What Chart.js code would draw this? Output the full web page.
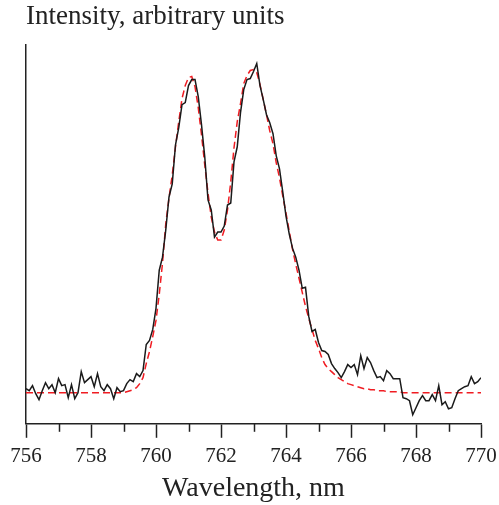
<!DOCTYPE html>
<html>
<head>
<meta charset="utf-8">
<script src="https://cdn.jsdelivr.net/npm/chart.js@4"></script>
<style>
  body { margin: 0; background: #fff; }
  canvas { display: block; }
</style>
</head>
<body>
<canvas id="spectrum" width="499" height="505"></canvas>
<script>
// wavelength grid, nm
const wlStart = 756;
const wlStep = 0.1;

// measured spectrum (black), arbitrary units, one value per 0.1 nm from 756 to 770
const measured = [
  35, 33, 38, 30, 24, 33, 41, 35, 39, 31,
  45, 38, 39, 26, 39, 25, 31, 52, 41, 44,
  47, 37, 50, 37, 33, 39, 35, 25, 36, 32,
  33, 40, 44, 42, 50, 47, 53, 79, 83, 94,
  115, 153, 166, 193, 226, 239, 278, 295, 318, 320,
  337, 343, 343, 326, 298, 266, 223, 213, 186, 191,
  191, 197, 218, 220, 261, 276, 310, 333, 343, 344,
  351, 359, 337, 323, 308, 300, 289, 267, 254, 231,
  207, 189, 175, 166, 153, 135, 136, 107, 92, 94,
  81, 73, 72, 69, 60, 55, 51, 46, 52, 59,
  56, 59, 49, 68, 55, 66, 61, 53, 46, 47,
  43, 53, 50, 45, 45, 45, 26, 25, 23, 9,
  16, 23, 28, 23, 23, 29, 23, 38, 19, 22,
  15, 16, 25, 33, 35, 37, 38, 47, 40, 42,
  46
];

// two-peak fit (red dashed), same grid
const fitted = [
  31, 31, 31, 31, 31, 31, 31, 31, 31, 31,
  31, 31, 31, 31, 31, 31, 31, 31, 31, 31,
  31, 31, 31, 31, 31, 31, 31, 31, 31, 31,
  31, 32, 33, 34, 36, 40, 46, 60, 72, 87,
  103, 129, 160, 199, 225, 248, 276, 301, 324, 337,
  345, 346, 336, 315, 288, 258, 230, 206, 191, 183,
  183, 193, 213, 241, 275, 301, 319, 339, 347, 352,
  353, 350, 338, 323, 308, 292, 279, 260, 245, 227,
  210, 192, 174, 159, 145, 131, 117, 105, 94, 83,
  75, 66, 59, 55, 52, 49, 46, 44, 42, 40,
  39, 38, 37, 36, 35, 35, 34, 34, 33, 33,
  33, 32, 32, 32, 32, 32, 31, 31, 31, 31,
  31, 31, 31, 31, 31, 31, 31, 31, 31, 31,
  31, 31, 31, 31, 31, 31, 31, 31, 31, 31,
  31
];

const xMin = 756, xMax = 770;
const yMax = 378;
const serif = "'Liberation Serif', 'DejaVu Serif', serif";
const ink = '#222';

function toPoints(values) {
  return values.map((v, i) => ({ x: +(wlStart + i * wlStep).toFixed(1), y: v }));
}

// short ticks on the odd wavelengths
const minorTicks = {
  id: 'minorTicks',
  afterDraw(chart) {
    const xs = chart.scales.x;
    const ctx = chart.ctx;
    ctx.save();
    ctx.strokeStyle = ink;
    ctx.lineWidth = 1.5;
    for (let v = xMin + 1; v < xMax; v += 2) {
      const px = Math.round(xs.getPixelForValue(v)) + 0.5;
      ctx.beginPath();
      ctx.moveTo(px, xs.top);
      ctx.lineTo(px, xs.top + 8);
      ctx.stroke();
    }
    ctx.restore();
  }
};

new Chart(document.getElementById('spectrum'), {
  type: 'line',
  data: {
    datasets: [
      {
        label: 'measured',
        data: toPoints(measured),
        borderColor: '#1a1a1a',
        borderWidth: 1.5,
        pointRadius: 0,
        tension: 0
      },
      {
        label: 'fit',
        data: toPoints(fitted),
        borderColor: '#f01c22',
        borderWidth: 1.5,
        borderDash: [7, 4],
        pointRadius: 0,
        tension: 0
      }
    ]
  },
  options: {
    responsive: false,
    animation: false,
    devicePixelRatio: 1,
    layout: { padding: { left: 26, right: 18, top: 0, bottom: 2 } },
    plugins: {
      legend: { display: false },
      tooltip: { enabled: false },
      title: {
        display: true,
        text: 'Intensity, arbitrary units',
        align: 'start',
        color: ink,
        font: { family: serif, size: 27, weight: 'normal', lineHeight: 1.2 },
        padding: { top: 1, bottom: 11 }
      }
    },
    scales: {
      x: {
        type: 'linear',
        min: xMin,
        max: xMax,
        ticks: {
          stepSize: 1,
          autoSkip: false,
          maxRotation: 0,
          padding: 6,
          color: ink,
          font: { family: serif, size: 21 },
          callback: v => (v % 2 === 0 ? v : '')
        },
        grid: {
          drawOnChartArea: false,
          tickLength: 14,
          tickWidth: 1.5,
          color: c => (c.tick && c.tick.value % 2 === 0 ? ink : 'rgba(0,0,0,0)')
        },
        border: { display: true, color: ink, width: 1.5 },
        title: {
          display: true,
          text: 'Wavelength, nm',
          color: ink,
          font: { family: serif, size: 28, lineHeight: 1.0 },
          padding: { top: 0, bottom: 0 }
        },
        afterFit: s => { s.paddingLeft = 0; s.paddingRight = 0; }
      },
      y: {
        min: 0,
        max: yMax,
        ticks: { display: false },
        grid: { display: false },
        border: { display: true, color: ink, width: 1.5 },
        afterFit: s => { s.width = 0; }
      }
    }
  },
  plugins: [minorTicks]
});
</script>
</body>
</html>
